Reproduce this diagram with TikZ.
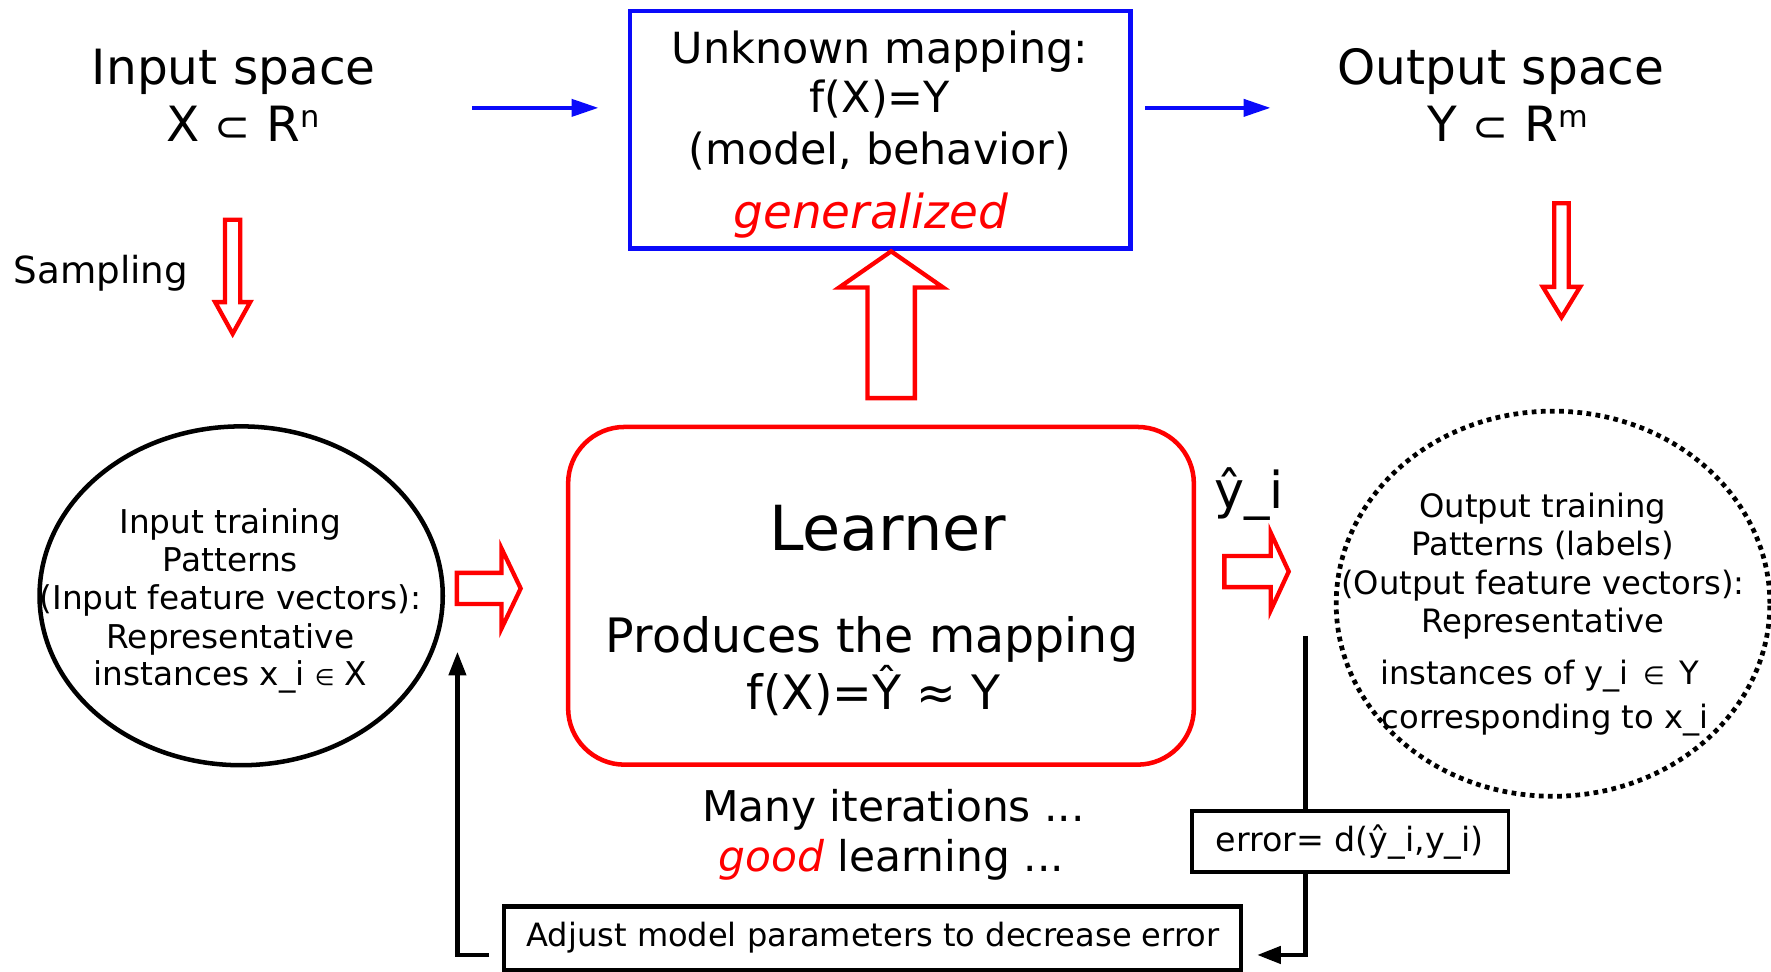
\documentclass[tikz,border=0pt]{standalone}
\usepackage{fontspec}
\setmainfont{DejaVu Sans}
\usetikzlibrary{shapes.geometric,arrows.meta,calc}
\definecolor{mapblue}{RGB}{10,10,250}
\definecolor{hotred}{RGB}{255,0,0}
\newcommand\setfs[1]{\fontsize{#1}{#1}\selectfont}
% hollow block arrow: tail point, angle, length, shaft half-width, head half-width, head length
\newcommand\hollowarrow[6]{%
  \draw[hollow,shift={#1},rotate=#2]
    (0,-#4) -- ({#3-#6},-#4) -- ({#3-#6},-#5) -- (#3,0) -- ({#3-#6},#5)
    -- ({#3-#6},#4) -- (0,#4) -- cycle;}
\begin{document}
\begin{tikzpicture}[x=1pt,y=-1pt,
  t/.style={inner sep=0pt,outer sep=0pt,anchor=base},
  hollow/.style={draw=hotred,line width=3.8pt,line join=miter},
  barrow/.style={draw=mapblue,line width=3.8pt,-{Triangle[length=24pt,width=15pt]}},
  blk/.style={draw=black,line width=4pt},
  blkarrow/.style={blk,-{Triangle[length=21pt,width=15pt]}},
  frame/.style={inner sep=0pt,outer sep=0pt}]
\useasboundingbox (0,0) rectangle (1568,860);

% ---- top row: spaces and the unknown mapping
\node[t,font=\setfs{43}] (insp) at (207,75) {Input space};
\node[t,font=\setfs{43}] (inset) at (215,125) {X {\setfs{38}⊂} R\raisebox{12pt}{\setfs{27}n}};
\node[t,font=\setfs{43}] (outsp) at (1329,75) {Output space};
\node[t,font=\setfs{43}] (outset) at (1335,125) {Y {\setfs{38}⊂} R\raisebox{12pt}{\setfs{27}m}};

\node[frame,draw=mapblue,line width=3.8pt,minimum width=443pt,minimum height=210pt] (map) at (779.5,115) {};
\node[t,font=\setfs{38}] (map1) at (779,56) {Unknown mapping:};
\node[t,font=\setfs{38}] (map2) at (779,100) {f(X)=Y};
\node[t,font=\setfs{38}] (map3) at (779,146) {(model, behavior)};
\node[t,font=\setfs{41.5}\itshape,text=hotred] (map4) at (771,202) {generalized};

\coordinate (b1s) at (418,95.5);
\coordinate (b1e) at (530,95.5);
\coordinate (b2s) at (1014,95.5);
\coordinate (b2e) at (1125,95.5);
\draw[barrow] (b1s) -- (b1e);
\draw[barrow] (b2s) -- (b2e);

\node[t,anchor=base west,font=\setfs{33}] (samp) at (12,251) {Sampling};

% ---- hollow red arrows
\hollowarrow{(206,194.5)}{-90}{101}{6.8}{15.5}{28}
\hollowarrow{(1382.5,180)}{-90}{101}{6.5}{16.5}{27}
\hollowarrow{(789,352.5)}{90}{130}{21}{46}{32}
\hollowarrow{(404.5,521)}{0}{56.5}{13.8}{35.5}{17}
\hollowarrow{(1084,506)}{0}{57}{13.8}{34.5}{16}

% ---- input training patterns
\node[frame,ellipse,draw,line width=4pt,minimum width=357pt,minimum height=300pt] (inel) at (213.5,527.5) {};
\node[t,font=\setfs{29}] (in1) at (204,472) {Input training};
\node[t,font=\setfs{29}] (in2) at (204,506) {Patterns};
\node[t,font=\setfs{29}] (in3) at (204,540) {(Input feature vectors):};
\node[t,font=\setfs{29}] (in4) at (204,574) {Representative};
\node[t,font=\setfs{29}] (in5) at (204,607) {instances x\_i {\setfs{20}∈} X};

% ---- learner
\node[frame,draw=hotred,line width=4pt,rounded corners=50pt,minimum width=554pt,minimum height=299pt] (learner) at (780,527.5) {};
\node[t,font=\setfs{55}] (ln1) at (786,487) {Learner};
\node[t,font=\setfs{42}] (ln2) at (772,578) {Produces the mapping};
\node[t,font=\setfs{42}] (ln3) at (773.5,628.5) {f(X)=Ŷ ≈ Y};

\node[t,anchor=base west,font=\setfs{45}] (yhat) at (1075,450) {ŷ\_i};

% ---- output training patterns
\node[frame,ellipse,draw,line width=4.2pt,dash pattern=on 4.2pt off 3.9pt,minimum width=384pt,minimum height=341pt] (outel) at (1375,534.5) {};
\node[t,font=\setfs{28.5}] (on1) at (1366,458) {Output training};
\node[t,font=\setfs{28.5}] (on2) at (1366,492) {Patterns (labels)};
\node[t,font=\setfs{28.5}] (on3) at (1366,526) {(Output feature vectors):};
\node[t,font=\setfs{28.5}] (on4) at (1366,560) {Representative};
\node[t,font=\setfs{28.5}] (on5) at (1363,606) {instances of y\_i {\setfs{22}\,∈\,} Y};
\node[t,font=\setfs{28.5}] (on6) at (1368,645) {corresponding to x\_i};

% ---- iteration notes
\node[t,font=\setfs{37.5}] (it1) at (791,727.5) {Many iterations ...};
\node[t,font=\setfs{37.5}] (it2) at (789,772) {{\itshape\color{hotred}good} learning ...};

% ---- error and adjustment boxes
\node[frame,draw,line width=3pt,minimum width=280pt,minimum height=54pt] (err) at (1195.5,745) {};
\node[t,font=\setfs{29.5}] (errt) at (1195,754) {error= d(ŷ\_i,y\_i)};
\node[frame,draw,line width=3.8pt,minimum width=652pt,minimum height=56pt] (adj) at (772.5,830.7) {};
\node[t,font=\setfs{28.4}] (adjt) at (773,838) {Adjust model parameters to decrease error};

% ---- feedback loop
\coordinate (etop) at (1156,563);
\coordinate (ebend) at (1156,845.5);
\coordinate (eend) at (1113,845.5);
\coordinate (fstart) at (433,845.5);
\coordinate (fbend) at (405,845.5);
\coordinate (fend) at (405,577);
\draw[blk] (etop) -- (etop |- err.north);
\draw[blkarrow,line join=miter] (etop |- err.south) -- (ebend) -- (eend);
\draw[blkarrow,line join=miter] (fstart) -- (fbend) -- (fend);
\end{tikzpicture}
\end{document}
